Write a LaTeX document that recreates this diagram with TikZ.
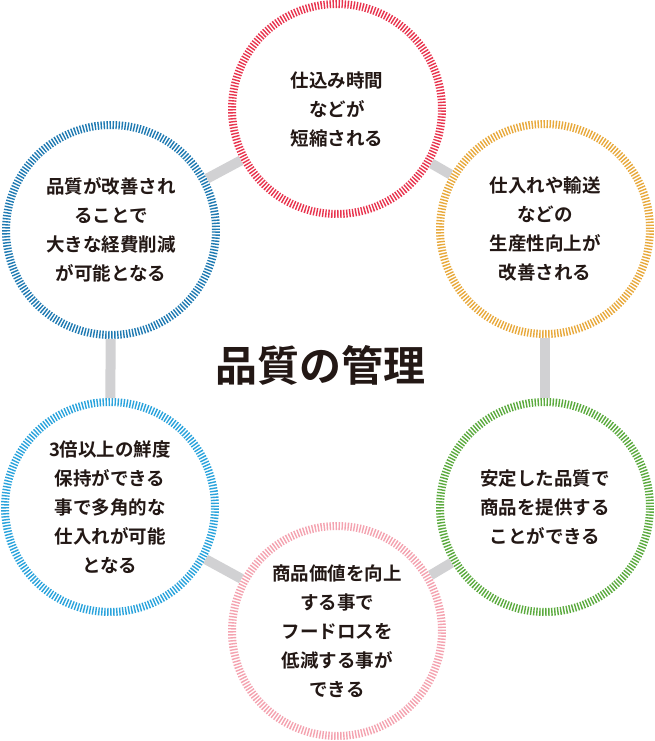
\documentclass[tikz,border=0pt]{standalone}
\usepackage{fontspec}
\newfontfamily\jpfont{Noto Sans CJK JP}[BoldFont={Noto Sans CJK JP Bold}]
\usepackage{tikz}
\definecolor{ringred}{HTML}{E8344E}
\definecolor{ringblue}{HTML}{1F7AB2}
\definecolor{ringorange}{HTML}{E8A93C}
\definecolor{ringsky}{HTML}{2AA3DC}
\definecolor{ringgreen}{HTML}{5BAA3E}
\definecolor{ringpink}{HTML}{F4A3B0}
\definecolor{linkgray}{HTML}{D1D1D3}
\definecolor{inkdark}{HTML}{231815}

\begin{document}
\begin{tikzpicture}[x=1pt,y=-1pt,
  ring/.style={circle, draw=#1, fill=white, line width=8pt, minimum size=210pt, inner sep=0pt,
    dash pattern=on 1.4pt off 1.6pt, align=center, text=inkdark,
    font=\jpfont\bfseries\fontsize{18.5}{29}\selectfont},
  link/.style={linkgray, line width=10pt}]
\useasboundingbox (0,0) rectangle (654,741);
% circles
\node[ring=ringred] (shorter) at (337,109) {仕込み時間\\などが\\短縮される};
\node[ring=ringorange] (product) at (545,229) {仕入れや輸送\\などの\\生産性向上が\\改善される};
\node[ring=ringgreen] (stable) at (545,507) {安定した品質で\\商品を提供する\\ことができる};
\node[ring=ringpink] (loss) at (337,631) {商品価値を向上\\する事で\\フードロスを\\低減する事が\\できる};
\node[ring=ringsky] (fresh) at (110,507) {3倍以上の鮮度\\保持ができる\\事で多角的な\\仕入れが可能\\となる};
\node[ring=ringblue] (cost) at (111,230) {品質が改善され\\ることで\\大きな経費削減\\が可能となる};
% links
\draw[link] (shorter) -- (product);
\draw[link] (product) -- (stable);
\draw[link] (stable) -- (loss);
\draw[link] (loss) -- (fresh);
\draw[link] (fresh) -- (cost);
\draw[link] (cost) -- (shorter);
% title
\node[text=inkdark, font=\jpfont\bfseries\fontsize{42}{42}\selectfont] (title) at (320,365) {品質の管理};
\end{tikzpicture}
\end{document}
